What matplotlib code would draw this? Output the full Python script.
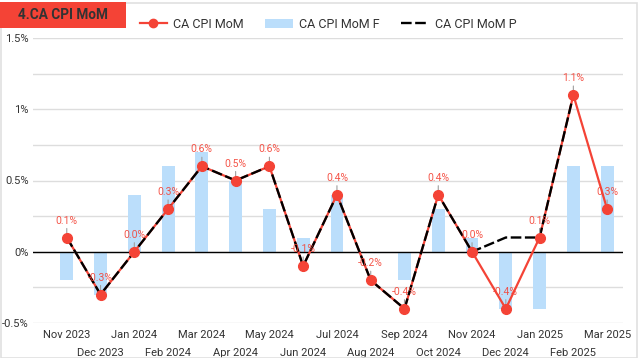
import matplotlib
matplotlib.use("Agg")
import matplotlib.pyplot as plt
import numpy as np
from matplotlib.patches import Rectangle
from matplotlib.lines import Line2D
from matplotlib.patches import Patch

plt.rcParams['font.family'] = ['Roboto', 'DejaVu Sans']

months = ["Nov 2023", "Dec 2023", "Jan 2024", "Feb 2024", "Mar 2024", "Apr 2024",
          "May 2024", "Jun 2024", "Jul 2024", "Aug 2024", "Sep 2024", "Oct 2024",
          "Nov 2024", "Dec 2024", "Jan 2025", "Feb 2025", "Mar 2025"]
actual = [0.1, -0.3, 0.0, 0.3, 0.6, 0.5, 0.6, -0.1, 0.4, -0.2, -0.4, 0.4,
          0.0, -0.4, 0.1, 1.1, 0.3]
forecast = [-0.2, -0.3, 0.4, 0.6, 0.7, 0.5, 0.3, 0.1, 0.4, 0.0, -0.2, 0.3,
            0.1, -0.4, -0.4, 0.6, 0.6]
previous = [0.1, -0.3, 0.0, 0.3, 0.6, 0.5, 0.6, -0.1, 0.4, -0.2, -0.4, 0.4,
            0.0, 0.1, 0.1, 1.1, np.nan]

RED = "#f44336"
BLUE = "#bbdefb"
TXT = "#333333"

fig = plt.figure(figsize=(6.38, 3.58), dpi=100)
ax = fig.add_axes([33/638, 1-323/358, (623-33)/638, (323-38)/358])

x = np.arange(len(months))
ax.bar(x, forecast, width=0.38, color=BLUE, zorder=2)
ax.plot(x, actual, color=RED, lw=1.6, zorder=3)
ax.plot(x, previous, color="black", lw=1.7, dashes=(4.5, 1.5), zorder=4)
ax.plot(x, actual, 'o', color=RED, ms=7, zorder=6, lw=0)

for i, v in enumerate(actual):
    ax.annotate(f"{v:.1f}%", xy=(i, v), xytext=(0, 8.5), textcoords='offset points',
                ha='center', va='bottom', fontsize=7.5, color=RED, alpha=0.9, zorder=5,
                arrowprops=dict(arrowstyle='-', color='#9e9e9e', lw=0.8,
                                shrinkA=0, shrinkB=2))

ax.set_xlim(-1.0, 16.47)
ax.set_ylim(-0.5, 1.5)
ax.set_yticks([-0.5, 0, 0.5, 1.0, 1.5])
ax.set_yticklabels(["-0.5%", "0%", "0.5%", "1%", "1.5%"])
ax.set_yticks([-0.25, 0.25, 0.75, 1.25], minor=True)
ax.yaxis.grid(True, which='both', color='#dddddd', lw=1)
ax.set_axisbelow(True)
ax.axhline(0, color='black', lw=1, zorder=2.5)
for s in ax.spines.values():
    s.set_visible(False)

even = x[::2]
odd = x[1::2]
ax.set_xticks(even)
ax.set_xticklabels([months[i] for i in even])
ax.set_xticks(odd, minor=True)
ax.set_xticklabels([months[i] for i in odd], minor=True)
ax.tick_params(axis='x', which='major', length=0, pad=5, labelsize=8, labelcolor=TXT)
ax.tick_params(axis='x', which='minor', length=0, pad=18, labelsize=8, labelcolor=TXT)
ax.tick_params(axis='y', which='both', length=0, pad=3, labelsize=8, labelcolor=TXT)

# figure border
fig.patches.append(Rectangle((0.5/638, 0.5/358), 636.5/638, 355/358, transform=fig.transFigure,
                             fill=False, edgecolor='#e0e0e0', lw=1.2))
# title box
fig.patches.append(Rectangle((0, 1-28/358), 126/638, 26/358, transform=fig.transFigure,
                             facecolor=RED, edgecolor='none'))
fig.text(63/638, 1-15/358, "4.CA CPI MoM", ha='center', va='center', fontsize=9.8,
         fontweight='bold', color='#333333')

handles = [Line2D([0], [0], color=RED, lw=1.6, marker='o', ms=6),
           Patch(facecolor=BLUE, edgecolor='none'),
           Line2D([0], [0], color='black', lw=1.7, dashes=(4.5, 1.5))]
labels = ["CA CPI MoM", "CA CPI MoM F", "CA CPI MoM P"]
fig.legend(handles, labels, loc='center', bbox_to_anchor=(328/638, 1-24/358), ncol=3,
           frameon=False, fontsize=9, handlelength=2.2, columnspacing=1.7,
           handletextpad=0.5, labelcolor=TXT)

fig.savefig("out.png", dpi=100)
